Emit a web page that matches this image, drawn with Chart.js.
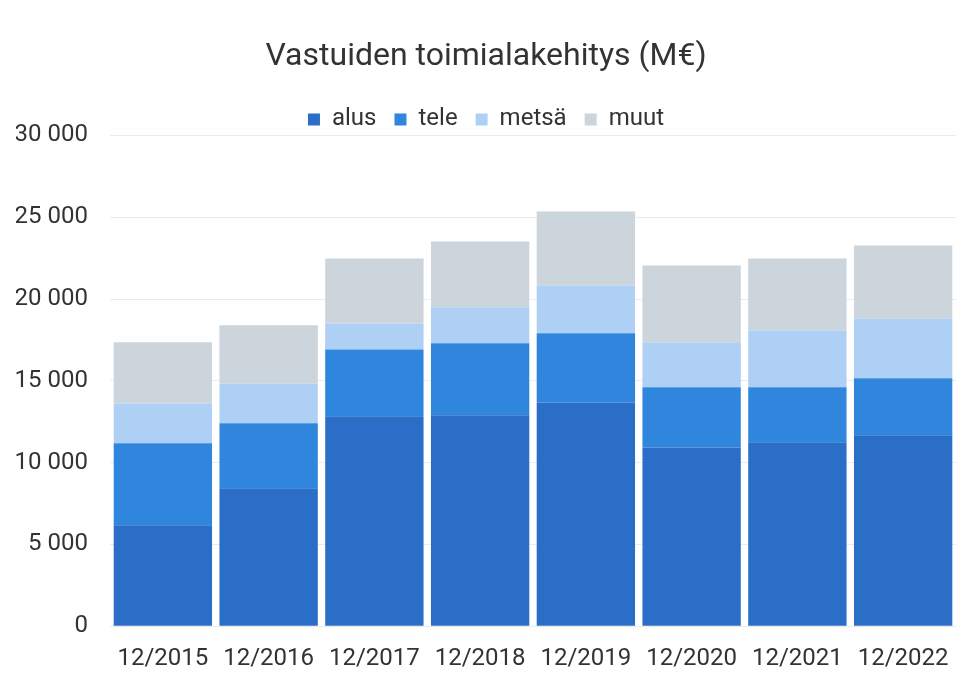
<!DOCTYPE html>
<html>
<head>
<meta charset="utf-8">
<script src="https://cdn.jsdelivr.net/npm/chart.js@4"></script>
<style>
  html, body { margin: 0; padding: 0; background: #fff; }
  #wrap { width: 970px; height: 686px; }
</style>
</head>
<body>
<div id="wrap"><canvas id="vastuutChart" width="970" height="686"></canvas></div>
<script>
const categories = ["12/2015", "12/2016", "12/2017", "12/2018", "12/2019", "12/2020", "12/2021", "12/2022"];
const alus = [6170, 8430, 12830, 12890, 13680, 10930, 11240, 11670];
const tele = [5010, 3970, 4090, 4400, 4220, 3670, 3360, 3480];
const metsa = [2440, 2440, 1590, 2200, 2930, 2750, 3480, 3660];
const muut = [3730, 3550, 3970, 4030, 4520, 4700, 4400, 4460];
const yTicks = [0, 5000, 10000, 15000, 20000, 25000, 30000];

const series = [
  { label: "alus", data: alus, color: "#2a6ec8" },
  { label: "tele", data: tele, color: "#2f86dc" },
  { label: "metsä", data: metsa, color: "#aed0f4" },
  { label: "muut", data: muut, color: "#ccd4dc" },
];

Chart.defaults.font.family = "Roboto, 'Noto Sans', sans-serif";
Chart.defaults.color = "#333";

// legend padding is wide for horizontal spacing; trim its height afterwards
const tightLegend = {
  id: "tightLegend",
  beforeLayout(chart) {
    const lg = chart.legend;
    if (lg && !lg._tight) {
      const fit = lg.fit;
      lg.fit = function () {
        fit.call(this);
        this.height -= 6;
      };
      lg._tight = true;
    }
  },
};

const ctx = document.getElementById("vastuutChart").getContext("2d");

new Chart(ctx, {
  type: "bar",
  data: {
    labels: categories,
    datasets: series.map((s) => ({
      label: s.label,
      data: s.data,
      backgroundColor: s.color,
      borderWidth: 0,
      barPercentage: 0.93,
      categoryPercentage: 1.0,
    })),
  },
  options: {
    responsive: false,
    animation: false,
    layout: { padding: { left: 16, right: 14, top: 0, bottom: 3 } },
    plugins: {
      title: {
        display: true,
        text: "Vastuiden toimialakehitys (M€)",
        color: "#333",
        font: { size: 32, weight: "normal" },
        padding: { top: 38, bottom: 13 },
      },
      legend: {
        position: "top",
        labels: {
          boxWidth: 12,
          boxHeight: 12,
          padding: 18,
          color: "#333",
          font: { size: 24 },
        },
      },
      tooltip: { enabled: false },
    },
    scales: {
      x: {
        stacked: true,
        grid: { display: false },
        border: { display: false },
        ticks: { font: { size: 24 }, color: "#333", padding: 10 },
      },
      y: {
        stacked: true,
        min: 0,
        max: 30000,
        afterBuildTicks: (axis) => {
          axis.ticks = yTicks.map((v) => ({ value: v }));
        },
        afterFit: (axis) => {
          axis.width = 94;
        },
        grid: { color: "#ebebeb", drawTicks: false },
        border: { display: false },
        ticks: {
          font: { size: 24 },
          color: "#333",
          padding: 22,
          callback: (v) => String(v).replace(/\B(?=(\d{3})+(?!\d))/g, " "),
        },
      },
    },
  },
  plugins: [tightLegend],
});
</script>
</body>
</html>
